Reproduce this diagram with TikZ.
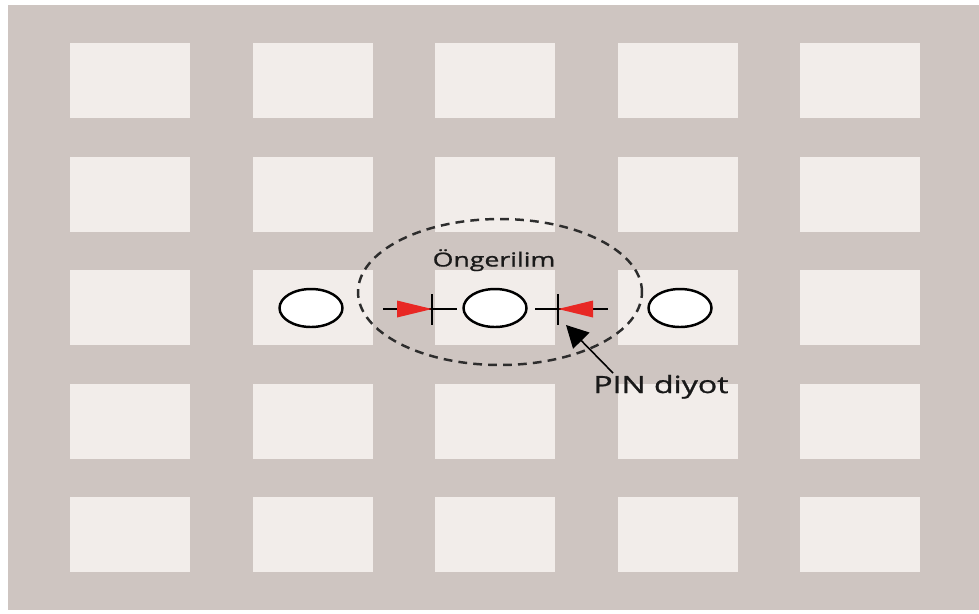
\documentclass[tikz,border=0pt]{standalone}
\usepackage{fontspec}
\setmainfont{Open Sans}
\newfontfamily\tagfont[FakeBold=0.9]{Open Sans}
\usetikzlibrary{arrows.meta,shapes.geometric}

\definecolor{substrate}{RGB}{206,197,193}
\definecolor{patchfill}{RGB}{242,237,234}
\definecolor{diodered}{RGB}{232,40,36}
\definecolor{ringgray}{RGB}{45,45,45}

\begin{document}
\begin{tikzpicture}[x=0.02cm, y=-0.02cm,
  patch/.style={fill=patchfill, minimum width=2.4cm, minimum height=1.5cm, inner sep=0pt},
  hole/.style={ellipse, draw=black, fill=white, line width=1.4pt, minimum width=1.26cm, minimum height=0.76cm, inner sep=0pt},
  lead/.style={line width=1.6pt},
  note/.style={inner sep=0pt, text=black!90}]
  \useasboundingbox (0,0) rectangle (979,613);

  % substrate
  \fill[substrate] (8,5) rectangle (979,610);

  % patches (5 x 5)
  \foreach \col/\cx in {1/130,2/313,3/495,4/678,5/860}
    \foreach \row/\cy in {1/80.5,2/194.5,3/307.5,4/421,5/534.5}
      \node[patch] (p\row\col) at (\cx,\cy) {};

  % holes
  \node[hole] (h1) at (311,308) {}; % left
  \node[hole] (h2) at (495,308) {}; % middle
  \node[hole] (h3) at (680,308) {}; % right

  % bias ring
  \node[draw=ringgray, ellipse, line width=1.4pt, dash pattern=on 5pt off 3.5pt,
        minimum width=5.68cm, minimum height=2.92cm, inner sep=0pt] (ring) at (500,292) {};

  % left diode
  \coordinate (la) at (383,309);
  \coordinate (lb) at (457,309);
  \coordinate (lk) at (432,309); % cathode
  \draw[lead] (la) -- (lb);
  \fill[diodered] ([shift={(-35,-8.5)}]lk) -- (lk) -- ([shift={(-35,8.5)}]lk) -- cycle;
  \draw[lead] ([shift={(0,-15)}]lk) -- ([shift={(0,16)}]lk);

  % right diode
  \coordinate (ra) at (535,309);
  \coordinate (rb) at (608,309);
  \coordinate (rk) at (558,309); % cathode
  \draw[lead] (ra) -- (rb);
  \fill[diodered] ([shift={(35,-8.5)}]rk) -- (rk) -- ([shift={(35,8.5)}]rk) -- cycle;
  \draw[lead] ([shift={(0,-15)}]rk) -- ([shift={(0,16)}]rk);

  % labels
  \node[note, anchor=base] (bias) at (494,266.5)
    {\tagfont\fontsize{11}{13}\selectfont\scalebox{1.38}[1]{Öngerilim}};
  \node[note, anchor=base west] (pin) at (593,393)
    {\tagfont\fontsize{13.5}{16}\selectfont\scalebox{1.35}[1]{PIN diyot}};

  % pointer
  \coordinate (tail) at (613,373);
  \coordinate (tip) at (566,325);
  \draw[line width=0.9pt, -{Triangle[length=12.5pt, width=13pt]}] (tail) -- (tip);
\end{tikzpicture}
\end{document}
